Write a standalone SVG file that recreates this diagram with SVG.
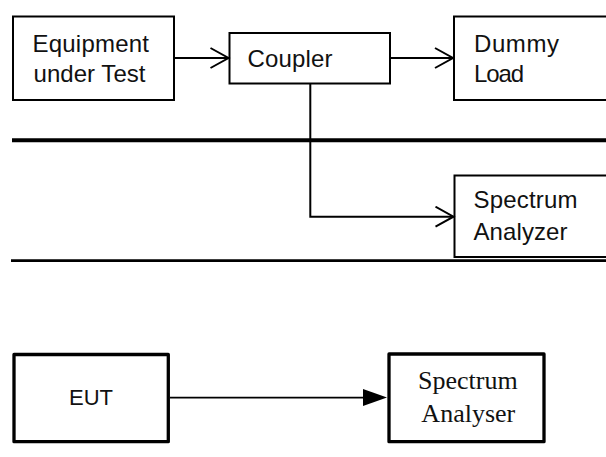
<svg xmlns="http://www.w3.org/2000/svg" width="606" height="457" viewBox="0 0 606 457">
  <style>
    .box { fill: #fff; stroke: #000; stroke-width: 2; }
    .boxb { fill: #fff; stroke: #000; stroke-width: 3.3; stroke-linejoin: round; }
    .lbl { font-family: "Liberation Sans", Arial, sans-serif; font-size: 24px; fill: #111; }
    .lbl-sm { font-size: 22px; text-anchor: middle; }
    .lbls { font-family: "Liberation Serif", "Times New Roman", serif; font-size: 26px; fill: #111; text-anchor: middle; }
    .wire { fill: none; stroke: #000; stroke-width: 2; }
    .rule { stroke: #000; fill: none; }
  </style>
  <defs>
    <marker id="open" markerUnits="userSpaceOnUse" markerWidth="22" markerHeight="24" refX="19" refY="11" orient="auto">
      <path d="M1,1 L19,11 L1,21" fill="none" stroke="#000" stroke-width="2"/>
    </marker>
  </defs>

  <!-- separators -->
  <line class="rule" x1="12" y1="140.3" x2="606" y2="140.3" stroke-width="4"/>
  <line class="rule" x1="11" y1="260.6" x2="606" y2="260.6" stroke-width="2.6"/>

  <!-- upper setup -->
  <g id="eut-top">
    <rect class="box" x="13" y="16.5" width="161" height="83.5"/>
    <text class="lbl" x="32.5" y="51.7" textLength="116.5">Equipment</text>
    <text class="lbl" x="33.5" y="82.3" textLength="112">under Test</text>
  </g>
  <g id="coupler">
    <rect class="box" x="229.5" y="33" width="160.5" height="50.5"/>
    <text class="lbl" x="247.5" y="66.7" textLength="85">Coupler</text>
  </g>
  <g id="dummy-load">
    <rect class="box" x="454" y="16.5" width="170" height="83.5"/>
    <text class="lbl" x="474" y="51.7" textLength="85">Dummy</text>
    <text class="lbl" x="474" y="81.7" textLength="50">Load</text>
  </g>
  <g id="analyzer-top">
    <rect class="box" x="454.5" y="175.5" width="170" height="81.5"/>
    <text class="lbl" x="473.5" y="208.3" textLength="104">Spectrum</text>
    <text class="lbl" x="473.5" y="240" textLength="94">Analyzer</text>
  </g>

  <!-- lower setup -->
  <g id="eut-bottom">
    <rect class="boxb" x="14" y="354.5" width="154.3" height="87.2"/>
    <text class="lbl lbl-sm" x="91" y="405">EUT</text>
  </g>
  <g id="analyser-bottom">
    <rect class="boxb" x="389" y="354" width="155" height="87.7"/>
    <text class="lbls" x="467.8" y="389.3">Spectrum</text>
    <text class="lbls" x="468.3" y="421.7">Analyser</text>
  </g>

  <!-- connectors -->
  <g id="connectors">
    <line class="wire" x1="174" y1="58" x2="228.5" y2="58" marker-end="url(#open)"/>
    <line class="wire" x1="390" y1="58" x2="453" y2="58" marker-end="url(#open)"/>
    <polyline class="wire" points="310.3,83.5 310.3,216.7 453.5,216.7" marker-end="url(#open)"/>
    <line x1="170" y1="397.7" x2="364" y2="397.7" stroke="#000" stroke-width="1.8"/>
    <polygon points="363,389 387,397.5 363,406" fill="#000"/>
  </g>
</svg>
